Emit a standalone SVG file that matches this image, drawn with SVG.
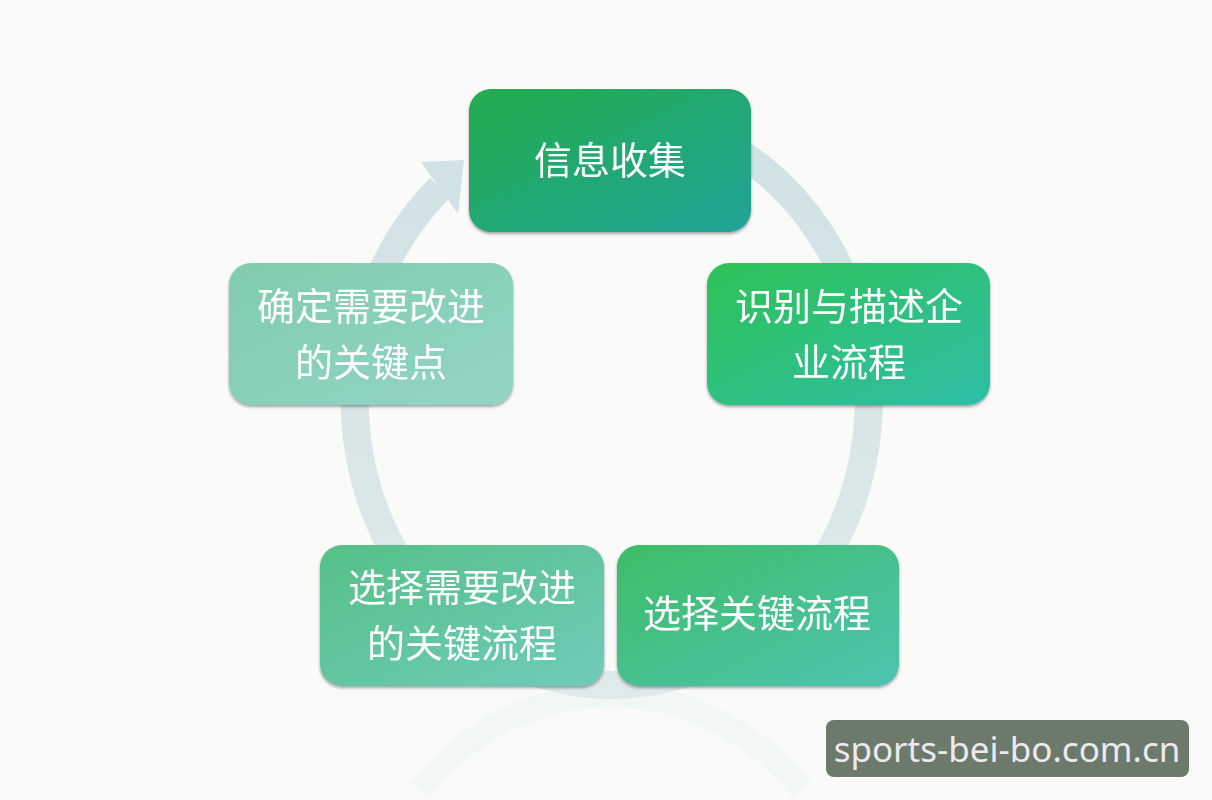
<svg xmlns="http://www.w3.org/2000/svg" width="1212" height="800" viewBox="0 0 1212 800">
<defs>
<style>
.lbl{font-family:"Noto Sans CJK SC","Noto Sans",sans-serif;font-size:38px;fill:#ffffff;text-anchor:middle;}
.wm{font-family:"Noto Sans","Open Sans",sans-serif;font-size:35px;fill:#efe8f0;text-anchor:middle;}
</style>
<linearGradient id="g1" x1="0" y1="0" x2="1" y2="1"><stop offset="0" stop-color="#21ad4c"/><stop offset="1" stop-color="#24a398"/></linearGradient>
<linearGradient id="g2" x1="0" y1="0" x2="1" y2="1"><stop offset="0" stop-color="#2ec255"/><stop offset="1" stop-color="#2ebea8"/></linearGradient>
<linearGradient id="g3" x1="0" y1="0" x2="1" y2="1"><stop offset="0" stop-color="#3dbd66"/><stop offset="1" stop-color="#4ec4b2"/></linearGradient>
<linearGradient id="g4" x1="0" y1="0" x2="1" y2="1"><stop offset="0" stop-color="#55c086"/><stop offset="1" stop-color="#70cbba"/></linearGradient>
<linearGradient id="g5" x1="0" y1="0" x2="1" y2="1"><stop offset="0" stop-color="#80ccad"/><stop offset="1" stop-color="#92d4c5"/></linearGradient>
<linearGradient id="ring" x1="0" y1="0" x2="0" y2="1"><stop offset="0" stop-color="#d1e2e4"/><stop offset="1" stop-color="#dfeaeb"/></linearGradient>
<filter id="sh" x="-10%" y="-10%" width="120%" height="130%"><feDropShadow dx="0" dy="2" stdDeviation="1.5" flood-color="#334" flood-opacity="0.45"/></filter>
</defs>
<rect width="1212" height="800" fill="#fafbf8"/>
<g id="connectors">
<path d="M 611 695 A 257 285 0 0 1 802 790" fill="none" stroke="#f1f7f5" stroke-width="24"/>
<path d="M 611 695 A 257 285 0 0 0 420 790" fill="none" stroke="#f1f7f5" stroke-width="24"/>
<path d="M 440 188 A 257 285 0 1 0 735 150" fill="none" stroke="url(#ring)" stroke-width="28"/>
<polygon points="421,162 464,160 458,214" fill="#d1e2e4"/>
</g>
<g id="node-collect" filter="url(#sh)">
<rect x="469" y="89" width="282" height="143" rx="22" fill="url(#g1)"/>
<text class="lbl" x="610" y="174">信息收集</text>
</g>
<g id="node-identify" filter="url(#sh)">
<rect x="707" y="263" width="283" height="142" rx="22" fill="url(#g2)"/>
<text class="lbl" x="849" y="320">识别与描述企<tspan x="849" dy="55.5">业流程</tspan></text>
</g>
<g id="node-select" filter="url(#sh)">
<rect x="617" y="545" width="282" height="141" rx="22" fill="url(#g3)"/>
<text class="lbl" x="757" y="627">选择关键流程</text>
</g>
<g id="node-select-improve" filter="url(#sh)">
<rect x="320" y="545" width="284" height="141" rx="22" fill="url(#g4)"/>
<text class="lbl" x="462" y="601">选择需要改进<tspan x="462" dy="55.5">的关键流程</tspan></text>
</g>
<g id="node-keypoints" filter="url(#sh)">
<rect x="229" y="263" width="284" height="142" rx="22" fill="url(#g5)"/>
<text class="lbl" x="371" y="320">确定需要改进<tspan x="371" dy="55.5">的关键点</tspan></text>
</g>
<g id="watermark">
<rect x="826" y="720" width="363" height="57" rx="8" fill="#6b7a6b"/>
<text class="wm" x="1007" y="762">sports-bei-bo.com.cn</text>
</g>
</svg>
